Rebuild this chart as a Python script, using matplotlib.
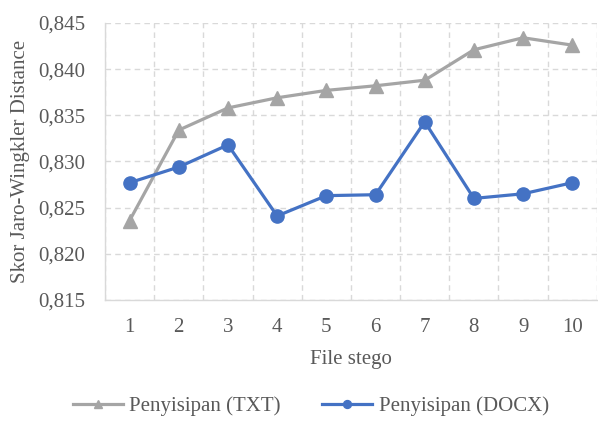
import numpy as np
import matplotlib
matplotlib.use('Agg')
import matplotlib.pyplot as plt
from matplotlib.ticker import FixedLocator, FuncFormatter

plt.rcParams['font.family'] = ['Liberation Serif', 'DejaVu Serif']

files = [1, 2, 3, 4, 5, 6, 7, 8, 9, 10]
skor_txt = [0.8236, 0.8334, 0.8358, 0.8369, 0.8377, 0.8382, 0.8388, 0.8421, 0.8434, 0.8426]
skor_docx = [0.8277, 0.8294, 0.8318, 0.8241, 0.8263, 0.8264, 0.8343, 0.8260, 0.8265, 0.8277]
y_ticks = [0.815, 0.820, 0.825, 0.830, 0.835, 0.840, 0.845]

txt_color = '#A5A5A5'
docx_color = '#4472C4'
text_color = '#595959'
grid_color = '#D9D9D9'

fig = plt.figure(figsize=(5.98, 4.24), dpi=100)
ax = fig.add_axes([0.1756, 0.2925, 0.8225, 0.6533])

ax.plot(files, skor_txt, '-^', color=txt_color, linewidth=2.3, markersize=9.5,
        label='Penyisipan (TXT)', zorder=3)
ax.plot(files, skor_docx, '-o', color=docx_color, linewidth=2.3, markersize=9.5,
        label='Penyisipan (DOCX)', zorder=4)

ax.set_xlim(0.5, 10.5)
ax.set_ylim(0.815, 0.845)
ax.set_xticks(files)
ax.xaxis.set_minor_locator(FixedLocator(np.arange(0.5, 11, 1.0)))
ax.set_yticks(y_ticks)
ax.yaxis.set_major_formatter(FuncFormatter(lambda v, p: f'{v:.3f}'.replace('.', ',')))

ax.grid(True, axis='y', which='major', color=grid_color, linestyle=(0, (4, 3)), linewidth=1)
ax.grid(True, axis='x', which='minor', color=grid_color, linestyle=(0, (4, 3)), linewidth=1)
ax.tick_params(axis='both', which='both', length=0, labelsize=15, colors=text_color)
ax.tick_params(axis='x', pad=13)
ax.tick_params(axis='y', pad=14)

for s in ['top', 'right']:
    ax.spines[s].set_visible(False)
for s in ['left', 'bottom']:
    ax.spines[s].set_color(grid_color)
    ax.spines[s].set_linewidth(1)

ax.set_xlabel('File stego', fontsize=15, color=text_color, labelpad=9)
ax.set_ylabel('Skor Jaro-Wingkler Distance', fontsize=15, color=text_color, labelpad=6)

fig.legend(loc='lower center', bbox_to_anchor=(0.52, -0.025), ncol=2, frameon=False,
           fontsize=15, labelcolor=text_color, handlelength=2.4, handletextpad=0.3,
           columnspacing=2.0, markerscale=0.6)

fig.savefig('out.png', dpi=100)
